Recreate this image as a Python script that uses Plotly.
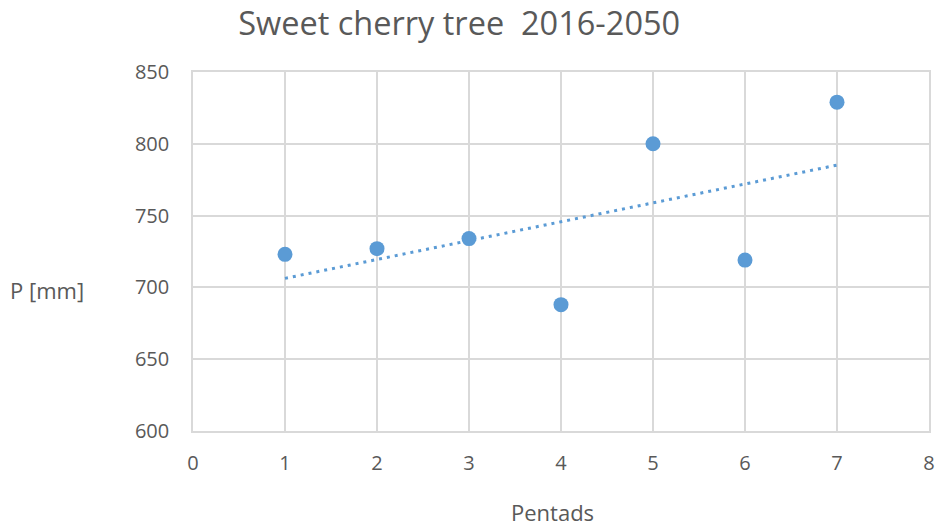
import numpy as np
import plotly.graph_objects as go

pentads = [1, 2, 3, 4, 5, 6, 7]
precip = [723, 727, 734, 688, 800, 719, 829]
title = "Sweet cherry tree  2016-2050"

slope, intercept = np.polyfit(pentads, precip, 1)
trend_x = [pentads[0], pentads[-1]]
trend_y = [slope * v + intercept for v in trend_x]

FONT = "Open Sans"
GRAY = "#595959"
BLUE = "#5B9BD5"

fig = go.Figure()
fig.add_trace(go.Scatter(x=trend_x, y=trend_y, mode="lines",
                         line=dict(color=BLUE, width=3, dash="3px,5px"),
                         showlegend=False, hoverinfo="skip"))
fig.add_trace(go.Scatter(x=pentads, y=precip, mode="markers",
                         marker=dict(color=BLUE, size=15),
                         showlegend=False))

fig.update_layout(
    width=941, height=526,
    margin=dict(l=193, r=12, t=72, b=95, autoexpand=False),
    paper_bgcolor="white", plot_bgcolor="white",
    font=dict(family=FONT, color=GRAY),
    title=dict(text=title, x=0.488, xref="container", xanchor="center",
               y=0.955, yref="container", yanchor="middle",
               font=dict(size=32.5, color=GRAY, family=FONT)),
    xaxis=dict(range=[0, 8], dtick=1, showgrid=True, gridcolor="#D9D9D9",
               gridwidth=1.5, zeroline=False, showline=True,
               linecolor="#D9D9D9", linewidth=1.5, mirror=True,
               automargin=False,
               ticks="outside", ticklen=13, tickcolor="rgba(0,0,0,0)",
               tickfont=dict(size=20, color=GRAY)),
    yaxis=dict(range=[600, 850], dtick=50, showgrid=True, gridcolor="#D9D9D9",
               gridwidth=1.5, zeroline=False, showline=True,
               linecolor="#D9D9D9", linewidth=1.5, mirror=True,
               automargin=False,
               ticks="outside", ticklen=18, tickcolor="rgba(0,0,0,0)",
               tickfont=dict(size=20, color=GRAY)),
    annotations=[
        dict(text="P [mm]", xref="paper", yref="paper", x=-0.198, y=0.393,
             xanchor="center", yanchor="middle", showarrow=False,
             font=dict(size=22, color=GRAY, family=FONT)),
        dict(text="Pentads", xref="paper", yref="paper", x=0.489, y=-0.226,
             xanchor="center", yanchor="middle", showarrow=False,
             font=dict(size=22, color=GRAY, family=FONT)),
    ],
)

fig.write_html("out.html", config={"displayModeBar": False},
               post_script="document.body.style.margin='0';")
